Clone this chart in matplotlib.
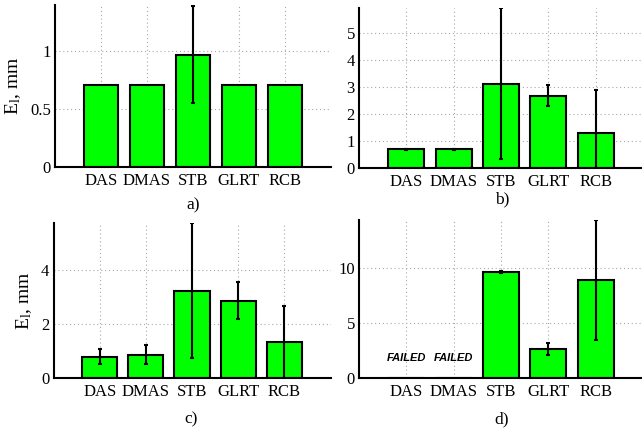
import matplotlib
matplotlib.use("Agg")
import matplotlib.pyplot as plt
import numpy as np

plt.rcParams['font.family'] = ['Liberation Serif', 'DejaVu Serif']
plt.rcParams['mathtext.fontset'] = 'custom'
plt.rcParams['mathtext.rm'] = 'Liberation Serif'
plt.rcParams['mathtext.it'] = 'Liberation Serif:italic'

methods = ['DAS', 'DMAS', 'STB', 'GLRT', 'RCB']

# mean localisation error and spread, per panel
a_mean = [0.71, 0.71, 0.97, 0.71, 0.71]
a_err = [0.0, 0.0, 0.42, 0.0, 0.0]
b_mean = [0.70, 0.70, 3.12, 2.68, 1.30]
b_err = [0.02, 0.02, 2.80, 0.38, 1.58]
c_mean = [0.78, 0.87, 3.24, 2.87, 1.33]
c_err = [0.28, 0.37, 2.50, 0.69, 1.35]
d_mean = [0.0, 0.0, 9.65, 2.65, 8.95]
d_err = [0.0, 0.0, 0.08, 0.55, 5.45]
d_failed = [True, True, False, False, False]

a_ticks = [0, 0.5, 1]
b_ticks = [0, 1, 2, 3, 4, 5]
c_ticks = [0, 2, 4]
d_ticks = [0, 5, 10]

W, H = 642, 434
fig = plt.figure(figsize=(W / 100, H / 100), dpi=100)


def px_axes(left, top, right, bottom):
    return fig.add_axes([left / W, 1 - bottom / H, (right - left) / W, (bottom - top) / H])


def panel(ax, mean, err, ticks, ytop, ylabel=False, failed=None):
    x = np.arange(1, len(methods) + 1)
    ax.set_axisbelow(True)
    ax.grid(True, color='#a8a8a8', linestyle=(0, (1, 2.5)), linewidth=0.8)
    ax.bar(x, mean, width=0.76, color='#00ff00', edgecolor='black', linewidth=1.5, zorder=2)
    e = np.array(err, dtype=float)
    keep = e > 0
    ax.errorbar(x[keep], np.array(mean)[keep], yerr=e[keep], fmt='none',
                ecolor='black', elinewidth=1.5, capsize=1.6, capthick=1.5, zorder=3)
    if failed is not None:
        for xi, f in zip(x, failed):
            if f:
                ax.text(xi, ytop * 0.125, 'FAILED', ha='center', va='center',
                        fontsize=8, fontweight='bold', fontstyle='italic',
                        family=['Liberation Sans', 'DejaVu Sans'])
    ax.set_xlim(0, 6)
    ax.set_ylim(0, ytop)
    ax.set_xticks(x)
    ax.set_xticklabels(methods)
    ax.set_yticks(ticks)
    ax.set_yticklabels([('%g' % t) for t in ticks])
    ax.tick_params(length=0, labelsize=12, pad=3)
    ax.tick_params(axis='x', pad=4)
    for s in ['top', 'right']:
        ax.spines[s].set_visible(False)
    for s in ['left', 'bottom']:
        ax.spines[s].set_linewidth(1.5)
    if ylabel:
        ax.set_ylabel(r'E$_\mathrm{l}$, mm', fontsize=14, labelpad=5)


ax_a = px_axes(55, 5, 331, 167)
ax_b = px_axes(359, 8, 643, 168)
ax_c = px_axes(53.5, 223, 330.5, 378)
ax_d = px_axes(359, 220, 643, 378)

panel(ax_a, a_mean, a_err, a_ticks, 1.4, ylabel=True)
panel(ax_b, b_mean, b_err, b_ticks, 5.93)
panel(ax_c, c_mean, c_err, c_ticks, 5.74, ylabel=True)
panel(ax_d, d_mean, d_err, d_ticks, 14.4, failed=d_failed)

for label, cx, cy in [('a)', 193, 205), ('b)', 502, 199), ('c)', 191, 419), ('d)', 502, 419)]:
    fig.text(cx / W, 1 - cy / H, label, ha='center', va='center', fontsize=12.5)

fig.savefig('out.png', dpi=100)
